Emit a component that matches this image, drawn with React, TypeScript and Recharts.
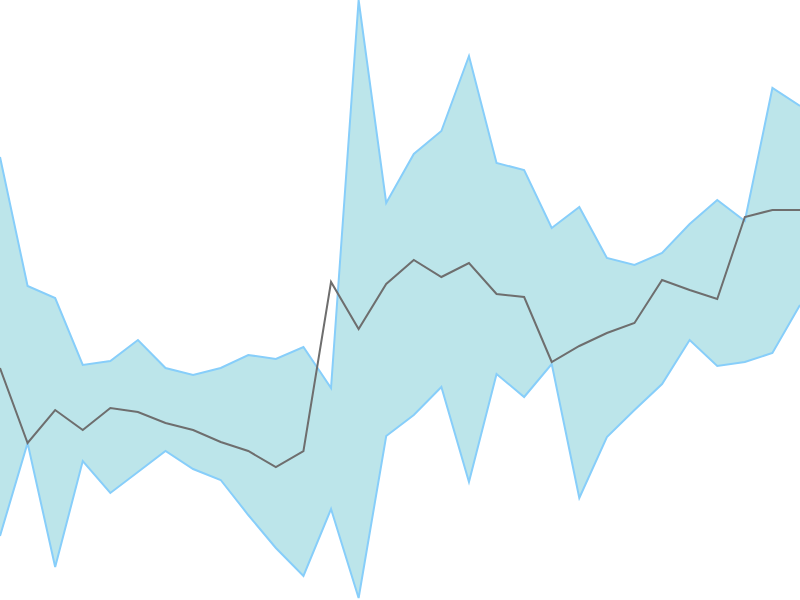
import { ComposedChart, Area, Line, XAxis, YAxis } from 'recharts'

// values (higher = further up)
const periods = Array.from({ length: 30 }, (_, i) => `P${i + 1}`)

const upper = [443, 314, 302, 235, 239, 260, 232, 225, 232, 245, 241, 253, 212, 600, 397, 446, 469, 544, 437, 430, 372, 393, 342, 335, 347, 376, 400, 379, 512, 494]
const lower = [64, 157, 33, 139, 107, 128, 149, 131, 120, 85, 52, 24, 91, 2, 164, 185, 213, 118, 226, 203, 236, 102, 163, 190, 216, 260, 234, 238, 247, 295]
const middle = [232, 157, 190, 170, 192, 188, 177, 170, 158, 149, 133, 149, 318, 271, 316, 340, 323, 337, 306, 303, 238, 254, 267, 277, 320, 310, 301, 383, 390, 390]

const data = periods.map((p, i) => ({
  period: p,
  band: [lower[i], upper[i]],
  mid: middle[i],
}))

export default function App() {
  return (
    <div style={{ position: 'absolute', top: 0, left: 0, width: 800, height: 600 }}>
      <ComposedChart width={800} height={600} data={data} margin={{ top: 0, right: 0, bottom: 0, left: 0 }}>
        <XAxis dataKey="period" hide padding={{ left: 0, right: 0 }} />
        <YAxis hide domain={[0, 600]} />
        <Area
          type="linear"
          dataKey="band"
          stroke="#87cefa"
          strokeWidth={2}
          fill="#b0e0e6"
          fillOpacity={0.85}
          dot={false}
          activeDot={false}
          isAnimationActive={false}
        />
        <Line
          type="linear"
          dataKey="mid"
          stroke="#6e6e6e"
          strokeWidth={2}
          dot={false}
          activeDot={false}
          isAnimationActive={false}
        />
      </ComposedChart>
    </div>
  )
}
